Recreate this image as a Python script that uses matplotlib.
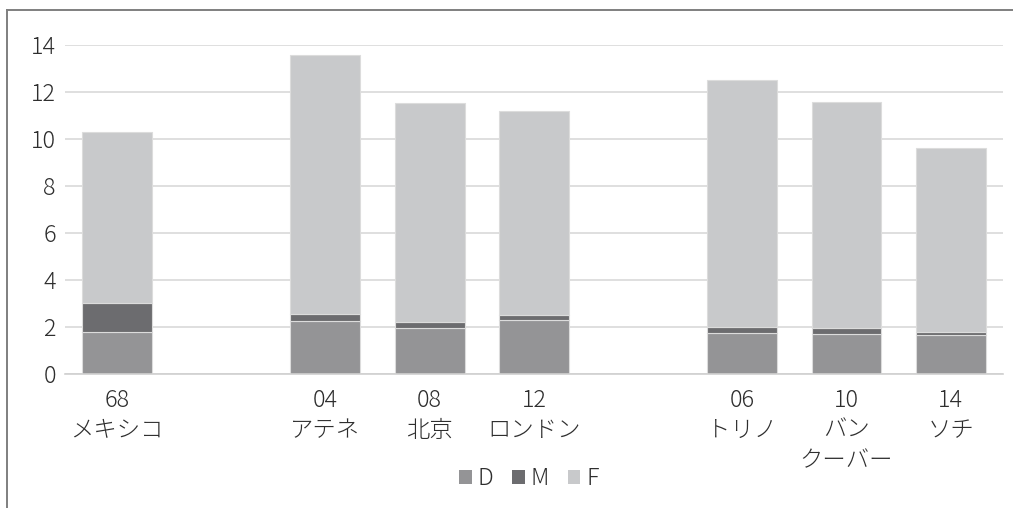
import numpy as np
import matplotlib
matplotlib.use('Agg')
import matplotlib.pyplot as plt
from matplotlib.lines import Line2D
from matplotlib.patches import Patch

plt.rcParams['font.family'] = ['Noto Sans CJK JP', 'DejaVu Sans']
plt.rcParams['font.weight'] = 'light'

# empty strings leave a gap between the summer and winter groups
CATEGORIES = ['68\nメキシコ', '', '04\nアテネ', '08\n北京', '12\nロンドン',
              '', '06\nトリノ', '10\nバン\nクーバー', '14\nソチ']
D = [1.80, 0, 2.25, 1.95, 2.30, 0, 1.75, 1.70, 1.65]
M = [1.20, 0, 0.30, 0.25, 0.20, 0, 0.25, 0.25, 0.15]
F = [7.30, 0, 11.00, 9.30, 8.70, 0, 10.50, 9.60, 7.80]

COLORS = {'D': '#949496', 'M': '#6c6c6f', 'F': '#c8c9cb'}
TEXT = '#2e2e2e'
FS = 16.8

fig = plt.figure(figsize=(10.13, 5.08), dpi=100)
ax = fig.add_axes([0.064, 0.264, 0.926, 0.648])

x = np.arange(len(CATEGORIES))
d = np.array(D)
m = np.array(M)
f = np.array(F)
mask = (d + m + f) > 0
kw = dict(width=0.67, edgecolor='#dcdcdc', linewidth=0.8, zorder=2)
ax.bar(x[mask], d[mask], color=COLORS['D'], **kw)
ax.bar(x[mask], m[mask], bottom=d[mask], color=COLORS['M'], **kw)
ax.bar(x[mask], f[mask], bottom=(d + m)[mask], color=COLORS['F'], **kw)

ax.set_xlim(-0.5, len(CATEGORIES) - 0.5)
ax.set_ylim(0, 14)
ax.set_yticks(range(0, 15, 2))
ax.yaxis.grid(True, color='#d9d9d9', linewidth=1.2, zorder=0)
ax.set_axisbelow(True)
for side in ('top', 'right', 'left'):
    ax.spines[side].set_visible(False)
ax.spines['bottom'].set_color('#d0d0d0')
ax.spines['bottom'].set_linewidth(1.2)
ax.spines['bottom'].set_zorder(3)
ax.tick_params(axis='both', length=0, labelsize=FS, labelcolor=TEXT)
ax.tick_params(axis='y', pad=6.5)
ax.set_xticks(x)
ax.set_xticklabels(CATEGORIES, linespacing=1.27)
ax.tick_params(axis='x', pad=10)

handles = [Patch(facecolor=COLORS[k], edgecolor='none', label=k) for k in ('D', 'M', 'F')]
fig.legend(handles=handles, loc='center', bbox_to_anchor=(0.522, 0.058), ncol=3,
           frameon=False, fontsize=FS, handlelength=0.55, handleheight=0.55,
           handletextpad=0.25, columnspacing=0.8, labelcolor=TEXT)

# outer frame, only the left and top edges remain in the crop
fig.add_artist(Line2D([6.5 / 1013, 6.5 / 1013], [0, 1 - 9.5 / 508],
                      transform=fig.transFigure, color='#7f7f7f', linewidth=1.4))
fig.add_artist(Line2D([6.5 / 1013, 1], [1 - 9.5 / 508, 1 - 9.5 / 508],
                      transform=fig.transFigure, color='#7f7f7f', linewidth=1.4))

fig.savefig('out.png', dpi=100)
